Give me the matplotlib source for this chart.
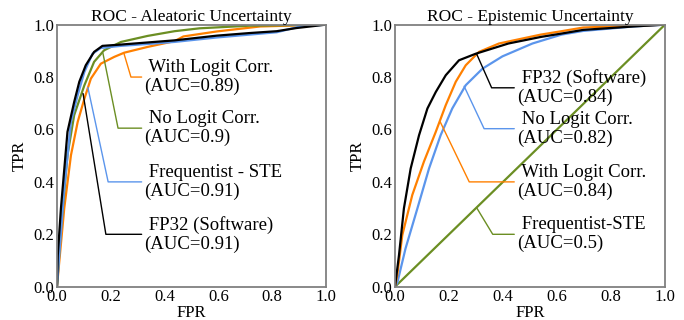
import numpy as np
import matplotlib.pyplot as plt
from math import atan2, degrees

plt.rcParams['font.family'] = ['Liberation Serif', 'DejaVu Serif']

# ---- Aleatoric ROC curves ----
ale_fp32_fpr = [0, 0.003, 0.0147, 0.039, 0.064, 0.083, 0.107, 0.138, 0.169, 0.238, 0.362, 0.437, 0.594, 0.717, 0.817, 0.89, 0.95, 1.0]
ale_fp32_tpr = [0, 0.12, 0.299, 0.591, 0.705, 0.782, 0.845, 0.896, 0.919, 0.924, 0.934, 0.94, 0.958, 0.968, 0.975, 0.987, 0.994, 1.0]

ale_freq_fpr = [0, 0.0085, 0.027, 0.052, 0.077, 0.102, 0.132, 0.163, 0.238, 0.362, 0.437, 0.594, 0.817, 0.904, 1.0]
ale_freq_tpr = [0, 0.121, 0.375, 0.629, 0.731, 0.82, 0.889, 0.911, 0.919, 0.928, 0.934, 0.951, 0.971, 0.993, 1.0]

ale_nologit_fpr = [0, 0.0147, 0.039, 0.064, 0.102, 0.138, 0.175, 0.238, 0.337, 0.437, 0.53, 0.717, 1.0]
ale_nologit_tpr = [0, 0.222, 0.502, 0.655, 0.769, 0.858, 0.902, 0.934, 0.957, 0.975, 0.986, 0.996, 1.0]

ale_logit_fpr = [0, 0.0085, 0.027, 0.052, 0.077, 0.102, 0.126, 0.163, 0.213, 0.25, 0.337, 0.437, 0.47, 0.594, 0.755, 1.0]
ale_logit_tpr = [0, 0.095, 0.299, 0.502, 0.629, 0.718, 0.794, 0.851, 0.877, 0.893, 0.915, 0.937, 0.955, 0.974, 0.993, 1.0]

# ---- Epistemic ROC curves ----
epi_fp32_fpr = [0, 0.0148, 0.033, 0.058, 0.089, 0.12, 0.151, 0.188, 0.237, 0.299, 0.42, 0.54, 0.617, 0.697, 0.883, 1.0]
epi_fp32_tpr = [0, 0.121, 0.299, 0.451, 0.578, 0.68, 0.743, 0.807, 0.864, 0.889, 0.928, 0.953, 0.966, 0.98, 0.993, 1.0]

epi_nologit_fpr = [0, 0.0085, 0.039, 0.083, 0.126, 0.169, 0.212, 0.262, 0.324, 0.398, 0.509, 0.617, 0.697, 0.883, 1.0]
epi_nologit_tpr = [0, 0.015, 0.146, 0.299, 0.451, 0.578, 0.68, 0.769, 0.832, 0.879, 0.928, 0.962, 0.976, 0.993, 1.0]

epi_logit_fpr = [0, 0.0085, 0.027, 0.064, 0.107, 0.151, 0.188, 0.225, 0.262, 0.311, 0.385, 0.54, 0.617, 0.697, 0.883, 1.0]
epi_logit_tpr = [0, 0.045, 0.197, 0.35, 0.477, 0.591, 0.693, 0.782, 0.845, 0.896, 0.928, 0.962, 0.975, 0.989, 0.996, 1.0]

epi_freq_fpr = [0, 1.0]
epi_freq_tpr = [0, 1.0]

c_black = 'black'
c_orange = '#ff8000'
c_blue = '#5b95ec'
c_green = '#6b8e23'

fig = plt.figure(figsize=(6.84, 3.2), dpi=100)
ax1 = fig.add_axes([0.0833, 0.104, 0.3933, 0.819])
ax2 = fig.add_axes([0.5775, 0.104, 0.3947, 0.819])


def annot(ax, label, pt, elbow, tx, color):
    # elbow line: horizontal from text, then slanted to the point on the curve
    p = ax.transData.transform(pt)
    e = ax.transData.transform(elbow)
    ang = degrees(atan2(e[1] - p[1], e[0] - p[0]))
    ax.annotate(label, xy=pt, xytext=(tx, elbow[1]), ha='left', va='center',
                fontsize=13.5, linespacing=1.13,
                arrowprops=dict(arrowstyle='-', color=color, lw=1.0, shrinkA=0, shrinkB=0,
                                connectionstyle='angle,angleA=0,angleB=%.1f,rad=0' % ang))


for ax in (ax1, ax2):
    ax.set_xlim(0, 1)
    ax.set_ylim(0, 1)
    ax.set_xticks([0, 0.2, 0.4, 0.6, 0.8, 1.0])
    ax.set_yticks([0, 0.2, 0.4, 0.6, 0.8, 1.0])
    ax.tick_params(length=0, labelsize=12, pad=2)
    for s in ax.spines.values():
        s.set_color('#808080')
        s.set_linewidth(1.3)
    ax.set_xlabel('FPR', fontsize=12, labelpad=0)
    ax.set_ylabel('TPR', fontsize=12, labelpad=4)

ax1.plot(ale_logit_fpr, ale_logit_tpr, color=c_orange, lw=1.6)
ax1.plot(ale_nologit_fpr, ale_nologit_tpr, color=c_green, lw=1.6)
ax1.plot(ale_freq_fpr, ale_freq_tpr, color=c_blue, lw=1.6)
ax1.plot(ale_fp32_fpr, ale_fp32_tpr, color=c_black, lw=1.6)
ax1.set_title('ROC - Aleatoric Uncertainty', fontsize=12.5, pad=1)

annot(ax1, ' With Logit Corr.\n(AUC=0.89)', (0.249, 0.89), (0.275, 0.80), 0.325, c_orange)
annot(ax1, ' No Logit Corr.\n(AUC=0.9)', (0.171, 0.89), (0.227, 0.605), 0.325, c_green)
annot(ax1, ' Frequentist - STE\n(AUC=0.91)', (0.115, 0.76), (0.19, 0.40), 0.325, c_blue)
annot(ax1, ' FP32 (Software)\n(AUC=0.91)', (0.097, 0.737), (0.182, 0.20), 0.325, c_black)

ax2.plot(epi_freq_fpr, epi_freq_tpr, color=c_green, lw=1.6)
ax2.plot(epi_nologit_fpr, epi_nologit_tpr, color=c_blue, lw=1.6)
ax2.plot(epi_logit_fpr, epi_logit_tpr, color=c_orange, lw=1.6)
ax2.plot(epi_fp32_fpr, epi_fp32_tpr, color=c_black, lw=1.6)
ax2.set_title('ROC - Epistemic Uncertainty', fontsize=12.5, pad=1)

annot(ax2, ' FP32 (Software)\n(AUC=0.84)', (0.302, 0.889), (0.358, 0.759), 0.452, c_black)
annot(ax2, ' No Logit Corr.\n(AUC=0.82)', (0.256, 0.765), (0.33, 0.603), 0.452, c_blue)
annot(ax2, ' With Logit Corr.\n(AUC=0.84)', (0.167, 0.63), (0.275, 0.40), 0.452, c_orange)
annot(ax2, ' Frequentist-STE\n(AUC=0.5)', (0.302, 0.302), (0.362, 0.20), 0.452, c_green)

fig.savefig('out.png', dpi=100)
